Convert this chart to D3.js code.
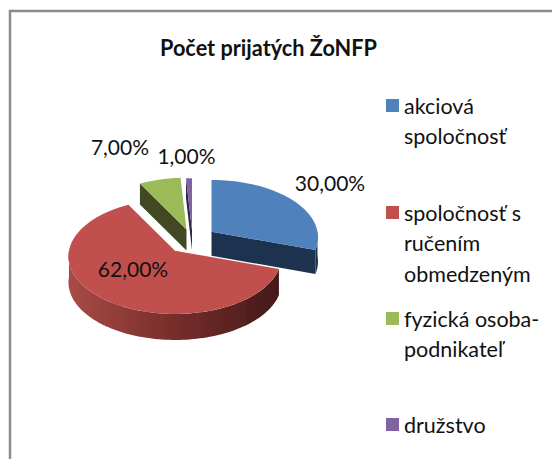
<!DOCTYPE html>
<html>
<head>
<meta charset="utf-8">
<script src="https://cdn.jsdelivr.net/npm/d3@7"></script>
<style>
    html, body { margin: 0; padding: 0; background: #fff; }
    svg { display: block; }
    text { font-family: Lato, "Open Sans", sans-serif; fill: #111; }
</style>
</head>
<body>
<div id="chart"></div>
<script>
// Chart data
const titleText = 'Počet prijatých ŽoNFP';
const categories = ['akciová spoločnosť', 'spoločnosť s ručením obmedzeným', 'fyzická osoba-podnikateľ', 'družstvo'];
const legendLines = [['akciová', 'spoločnosť'], ['spoločnosť s', 'ručením', 'obmedzeným'], ['fyzická osoba-', 'podnikateľ'], ['družstvo']];
const values = [30, 62, 7, 1];
const labels = ['30,00%', '62,00%', '7,00%', '1,00%'];
const topColors = ['#4f81bd', '#c0504d', '#9bbb59', '#8064a2'];
const faceColors = ['#1f3350', '#4a1c19', '#3f4a20', '#32264a'];

// Layout
const width = 552, height = 459;
const radiusX = 106, radiusY = 57.5, perspective = 0.1;
const centers = [[211.5, 231.7], [175, 250.7], [186.5, 229.5], [192, 230]];
const depths = [24, 26, 21, 20];
const labelPos = [[330, 191], [133, 277], [120, 155], [186.5, 164]];
const legendTop = [99, 206, 312, 418];

const svg = d3.select('#chart').append('svg')
    .attr('width', width)
    .attr('height', height);

const defs = svg.append('defs');
const wallGradient = defs.append('linearGradient')
    .attr('id', 'red-wall')
    .attr('x1', '0%').attr('x2', '100%')
    .attr('y1', '0%').attr('y2', '0%');
wallGradient.append('stop').attr('offset', '0%').attr('stop-color', '#a94a46');
wallGradient.append('stop').attr('offset', '45%').attr('stop-color', '#7b302d');
wallGradient.append('stop').attr('offset', '100%').attr('stop-color', '#45191a');

defs.append('filter').attr('id', 'soft')
    .append('feGaussianBlur').attr('stdDeviation', 0.4);

// Frame, open on the right and bottom
svg.append('path')
    .attr('d', d3.line()([[10, height], [10, 11], [width, 11]]))
    .attr('fill', 'none')
    .attr('stroke', '#8c8c8c')
    .attr('stroke-width', 2.5);

svg.append('text')
    .attr('x', 268.5)
    .attr('y', 56)
    .attr('text-anchor', 'middle')
    .attr('font-size', 22)
    .attr('font-weight', 700)
    .attr('textLength', 217)
    .attr('lengthAdjust', 'spacingAndGlyphs')
    .text(titleText);

const pie = d3.pie().sort(null).value(d => d);
const arcs = pie(values);

// Flat disc point to screen, the near side drawn a little bigger
function project(angle, i, drop = 0) {
    const sx = Math.sin(angle);
    const sy = -Math.cos(angle);
    const s = 1 + perspective * sy;
    return [
        centers[i][0] + radiusX * sx * s,
        centers[i][1] + radiusY * sy * s + drop
    ];
}

function rim(a0, a1, i, drop = 0) {
    const steps = Math.max(2, Math.ceil((a1 - a0) / 0.03));
    return d3.range(steps + 1).map(k => project(a0 + (a1 - a0) * k / steps, i, drop));
}

const line = d3.line();
const pieGroup = svg.append('g').attr('filter', 'url(#soft)');

// Side walls first, back slices before the front ones
[3, 2, 0, 1].forEach(i => {
    const arc = arcs[i];
    const center = centers[i];
    const g = pieGroup.append('g');

    if (i === 1) {
        // Outer wall, only the part facing the viewer
        const a1 = Math.min(arc.endAngle, 1.5 * Math.PI);
        const topEdge = rim(arc.startAngle, a1, i);
        const bottomEdge = rim(arc.startAngle, a1, i, depths[i]).reverse();
        g.append('path')
            .attr('d', line(topEdge.concat(bottomEdge)) + 'Z')
            .attr('fill', 'url(#red-wall)');
    } else {
        // Cut face seen through the gap
        const edgeAngle = i === 0 ? arc.endAngle : arc.startAngle;
        const p = project(edgeAngle, i);
        const face = [
            center,
            p,
            [p[0], p[1] + depths[i]],
            [center[0], center[1] + depths[i]]
        ];
        g.append('path')
            .attr('d', line(face) + 'Z')
            .attr('fill', faceColors[i]);
    }

    if (i === 0) {
        const a0 = Math.PI / 2;
        const topEdge = rim(a0, arc.endAngle, i);
        const bottomEdge = rim(a0, arc.endAngle, i, depths[i]).reverse();
        g.append('path')
            .attr('d', line(topEdge.concat(bottomEdge)) + 'Z')
            .attr('fill', faceColors[i]);
    }

    g.append('path')
        .attr('d', line([center].concat(rim(arc.startAngle, arc.endAngle, i))) + 'Z')
        .attr('fill', topColors[i]);
});

// Data labels
svg.append('g')
    .selectAll('text')
    .data(labels)
    .enter()
    .append('text')
    .attr('x', (d, i) => labelPos[i][0])
    .attr('y', (d, i) => labelPos[i][1])
    .attr('text-anchor', 'middle')
    .attr('font-size', 21)
    .text(d => d);

// Legend
const legend = svg.append('g')
    .selectAll('g')
    .data(categories)
    .enter()
    .append('g')
    .attr('transform', (d, i) => `translate(386,${legendTop[i]})`);

legend.append('rect')
    .attr('width', 13)
    .attr('height', 13)
    .attr('fill', (d, i) => topColors[i]);

legend.each(function(d, i) {
    d3.select(this).selectAll('text')
        .data(legendLines[i])
        .enter()
        .append('text')
        .attr('x', 18)
        .attr('y', (t, k) => 14.5 + k * 30.7)
        .attr('font-size', 21.5)
        .text(t => t);
});
</script>
</body>
</html>
